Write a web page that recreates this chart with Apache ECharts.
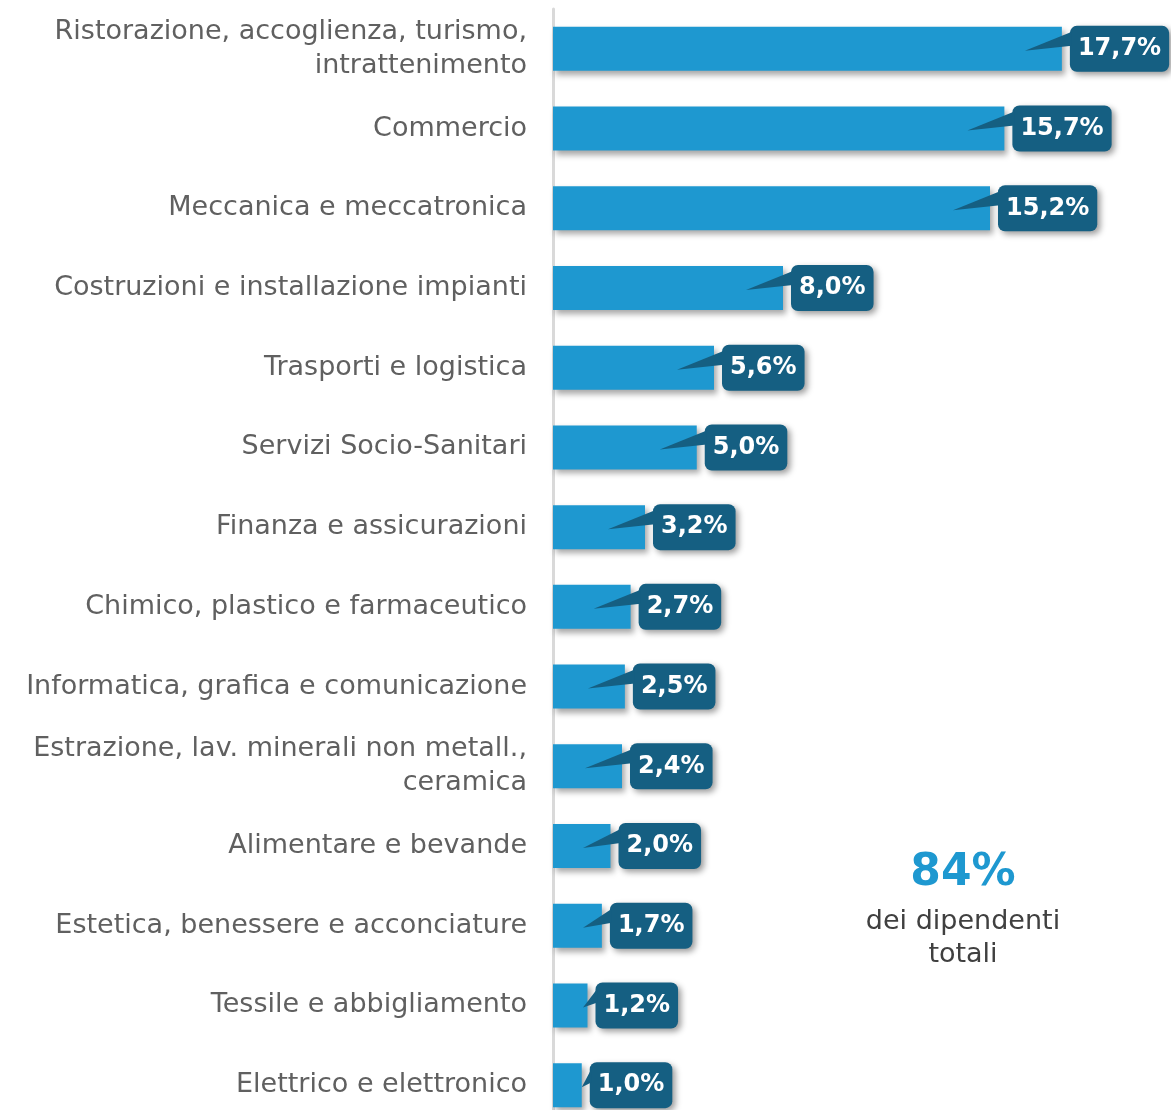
<!DOCTYPE html>
<html>
<head>
<meta charset="utf-8">
<script src="https://cdn.jsdelivr.net/npm/echarts@6/dist/echarts.min.js"></script>
<style>
  html, body { margin: 0; padding: 0; background: #fff; }
  #chart { width: 1171px; height: 1110px; }
</style>
</head>
<body>
<div id="chart"></div>
<script>
const categories = [
  "Ristorazione, accoglienza, turismo,\nintrattenimento",
  "Commercio",
  "Meccanica e meccatronica",
  "Costruzioni e installazione impianti",
  "Trasporti e logistica",
  "Servizi Socio-Sanitari",
  "Finanza e assicurazioni",
  "Chimico, plastico e farmaceutico",
  "Informatica, grafica e comunicazione",
  "Estrazione, lav. minerali non metall.,\nceramica",
  "Alimentare e bevande",
  "Estetica, benessere e acconciature",
  "Tessile e abbigliamento",
  "Elettrico e elettronico"
];
const shares = [17.7, 15.7, 15.2, 8.0, 5.6, 5.0, 3.2, 2.7, 2.5, 2.4, 2.0, 1.7, 1.2, 1.0];
const totalShare = "84%";
const totalCaption = "dei dipendenti\ntotali";

const FONT = "DejaVu Sans";
const BAR = "#1e98d0";
const BOX = "#155f82";

const chart = echarts.init(document.getElementById("chart"));

const fmt = (v) => v.toFixed(1).replace(".", ",") + "%";

const option = {
  animation: false,
  grid: { left: 553, right: 43, top: 9, height: 1116, outerBoundsMode: "none" },
  xAxis: {
    type: "value",
    min: 0,
    max: 20,
    show: false
  },
  yAxis: {
    type: "category",
    inverse: true,
    data: categories,
    axisTick: { show: false },
    axisLine: { show: true, lineStyle: { color: "#d9d9d9", width: 3 } },
    axisLabel: {
      margin: 26,
      color: "#606060",
      fontFamily: FONT,
      fontSize: 27,
      lineHeight: 34,
      align: "right"
    }
  },
  series: [
    {
      type: "bar",
      data: shares,
      barWidth: 44,
      z: 2,
      itemStyle: {
        color: BAR,
        shadowColor: "rgba(0,0,0,0.35)",
        shadowBlur: 6,
        shadowOffsetX: 3,
        shadowOffsetY: 4
      },
      label: {
        show: true,
        position: "right",
        distance: 8,
        formatter: (p) => fmt(p.value),
        color: "#fff",
        fontFamily: FONT,
        fontWeight: "bold",
        fontSize: 24,
        backgroundColor: BOX,
        borderRadius: 7,
        padding: [12, 8, 10, 8],
        shadowColor: "rgba(0,0,0,0.4)",
        shadowBlur: 6,
        shadowOffsetX: 3,
        shadowOffsetY: 3
      }
    },
    {
      type: "custom",
      z: 3,
      silent: true,
      data: shares.map((v, i) => [v, i]),
      renderItem: function (params, api) {
        const end = api.coord([api.value(0), api.value(1)]);
        const start = api.coord([0, api.value(1)]);
        const w = end[0] - start[0];
        const off = Math.min(37, Math.max(0, w - 30));
        const cy = end[1];
        return {
          type: "polygon",
          shape: {
            points: [
              [end[0] - off, cy + 2],
              [end[0] + 10, cy - 17],
              [end[0] + 10, cy - 3]
            ]
          },
          style: { fill: BOX }
        };
      }
    }
  ],
  graphic: [
    {
      type: "text",
      x: 963,
      y: 852,
      style: {
        text: totalShare,
        align: "center",
        fill: BAR,
        font: "bold 44px " + FONT
      }
    },
    {
      type: "text",
      x: 963,
      y: 905,
      style: {
        text: totalCaption,
        align: "center",
        fill: "#404040",
        font: "27px " + FONT,
        lineHeight: 33
      }
    }
  ]
};

chart.setOption(option);
</script>
</body>
</html>
